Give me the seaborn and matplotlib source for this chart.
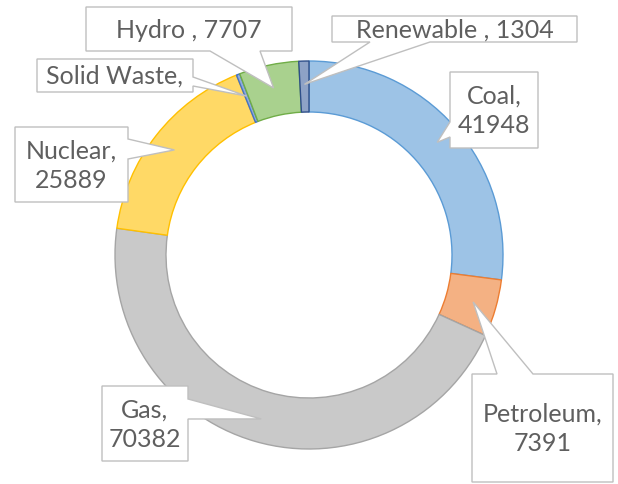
import matplotlib
matplotlib.use("Agg")
import numpy as np
import matplotlib.pyplot as plt
from matplotlib.patches import Polygon
import seaborn as sns

# data (clockwise from 12 o'clock)
sources = ['Coal', 'Petroleum', 'Gas', 'Nuclear', 'Solid Waste', 'Hydro', 'Renewable']
values = [41948, 7391, 70382, 25889, 450, 7707, 1304]
labels = ['Coal,\n41948', 'Petroleum,\n7391', 'Gas,\n70382', 'Nuclear,\n25889',
          'Solid Waste,', 'Hydro , 7707', 'Renewable , 1304']

fills = ['#9dc3e6', '#f4b183', '#c9c9c9', '#ffd966', '#8faadc', '#a9d18e', '#8ea2c6']
edges = ['#5b9bd5', '#ed7d31', '#a5a5a5', '#ffc000', '#4472c4', '#70ad47', '#2f4f8a']

W, H = 618, 485

# callout boxes, pixels from top-left: x0, y0, x1, y1, pointer side, base start, base end
boxes = [
    (450, 73, 538, 149, 'left', 123, 138),
    (472, 375, 613, 483, 'top', 497, 533),
    (102, 387, 188, 462, 'right', 400, 420),
    (15, 128, 128, 203, 'right', 140, 160),
    (37, 60, 193, 93, 'right', 78, 87),
    (86, 8, 292, 52, 'bottom', 210, 260),
    (332, 17, 577, 43, 'bottom', 370, 430),
]

sns.set_theme(style="white")
plt.rcParams['font.family'] = ['Lato', 'DejaVu Sans']

fig = plt.figure(figsize=(W / 100, H / 100), dpi=100)
ax = fig.add_axes([0, 0, 1, 1])

cx, cy, R = 309, H - 256, 194
wedges, _ = ax.pie(values, colors=fills, startangle=90, counterclock=False,
                   center=(cx, cy), radius=R,
                   wedgeprops=dict(width=51, linewidth=1.0))
for w, ec in zip(wedges, edges):
    w.set_edgecolor(ec)

ax.set_xlim(0, W)
ax.set_ylim(0, H)
ax.set_aspect('equal')
ax.axis('off')


def callout_points(x0, y0, x1, y1, side, b0, b1, tip):
    if side == 'left':
        pts = [(x0, y0), (x1, y0), (x1, y1), (x0, y1), (x0, b1), tip, (x0, b0)]
    elif side == 'right':
        pts = [(x0, y0), (x1, y0), (x1, b0), tip, (x1, b1), (x1, y1), (x0, y1)]
    elif side == 'top':
        pts = [(x0, y0), (b0, y0), tip, (b1, y0), (x1, y0), (x1, y1), (x0, y1)]
    else:
        pts = [(x0, y0), (x1, y0), (x1, y1), (b1, y1), tip, (b0, y1), (x0, y1)]
    return [(px, H - py) for px, py in pts]


r_tip = 0.88 * R
for w, lab, (x0, y0, x1, y1, side, b0, b1) in zip(wedges, labels, boxes):
    mid = np.deg2rad((w.theta1 + w.theta2) / 2)
    tip = (cx + r_tip * np.cos(mid), H - (cy + r_tip * np.sin(mid)))
    poly = Polygon(callout_points(x0, y0, x1, y1, side, b0, b1, tip),
                   closed=True, facecolor='white', edgecolor='#bfbfbf',
                   linewidth=1.0, zorder=5)
    ax.add_patch(poly)
    ax.text((x0 + x1) / 2, H - (y0 + y1) / 2, lab, ha='center', va='center',
            multialignment='center', fontsize=18, color='#5f5f5f',
            linespacing=1.35, zorder=6)

fig.savefig('out.png', dpi=100)
